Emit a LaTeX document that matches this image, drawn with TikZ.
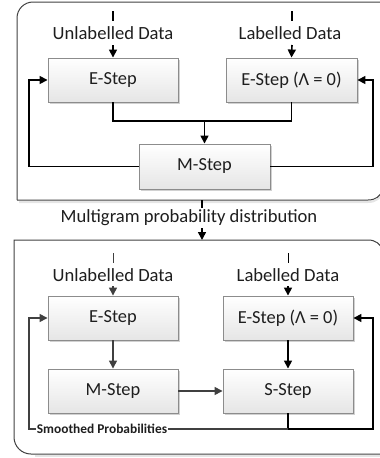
\documentclass[tikz,border=0pt]{standalone}
\usepackage{fontspec}
\setmainfont{Carlito}
\usetikzlibrary{arrows.meta,shadows}
\definecolor{txt}{HTML}{1E1E1E}
\definecolor{boxline}{HTML}{8C8C8C}
\definecolor{panelline}{HTML}{404040}
\definecolor{darkline}{HTML}{404040}
\tikzset{
  stepbox/.style={draw=boxline, line width=0.9pt, top color=white, bottom color=black!10,
    minimum width=130pt, minimum height=44pt, inner sep=0pt, text=txt,
    font=\fontsize{18.4}{20}\selectfont,
    drop shadow={shadow xshift=1.5pt, shadow yshift=-1.5pt, opacity=0.18, fill=black}},
  lbl/.style={text=txt, font=\fontsize{18.6}{20}\selectfont, inner sep=1pt},
  conn/.style={draw=black, line width=1.6pt},
  gconn/.style={draw=darkline, line width=1.4pt},
  tip/.style={-{Triangle[width=8pt,length=8pt]}},
  panel/.style={draw=panelline, line width=1pt},
  pshadow/.style={draw=black!10, line width=2pt},
}
\begin{document}
\begin{tikzpicture}[x=1pt,y=-1pt]
\useasboundingbox (0,0) rectangle (380,458);
% panel shadows
\draw[pshadow] (19,202) -- (368,202) .. controls (376,202) and (380,198) .. (384,192);
\draw[pshadow] (35,456) -- (384,456);
% panels
\draw[panel] (17,200) -- (17,18) .. controls (17,9.2) and (24.2,2) .. (33,2) -- (383,2);
\draw[panel] (17,200) -- (368,200) .. controls (376,200) and (380,196) .. (383,190);
\draw[panel] (383,250) .. controls (380,244) and (376,240) .. (368,240) -- (14,240) -- (14,437) .. controls (14,446.4) and (21.6,454) .. (31,454) -- (383,454);
% ---------- panel 1 ----------
\node[stepbox] (e1) at (113,80) {E-Step};
\node[stepbox, minimum width=131pt] (e2) at (291.5,80) {E-Step (Λ = 0)};
\node[stepbox, minimum width=131pt, minimum height=45pt] (m1) at (204.5,166.5) {M-Step};
\node[lbl] (u1) at (113,33) {Unlabelled Data};
\node[lbl] (l1) at (290,33) {Labelled Data};
\coordinate (u1t) at (113,11); \coordinate (u1b) at (113,21);
\coordinate (l1t) at (292,11); \coordinate (l1b) at (292,21);
\draw[conn, line width=1.3pt] (u1t) -- (u1b);
\draw[conn, line width=1.3pt] (l1t) -- (l1b);
\draw[conn,tip] (113,45) -- (e1.north);
\draw[conn,tip] (292,45) -- (e2.north);
\coordinate (j1) at (204.5,121);
\draw[conn] (e1.south) |- (j1);
\draw[conn] (e2.south) |- (j1);
\draw[conn,tip] (j1) -- (m1.north);
\coordinate (fl1) at (29,80);
\coordinate (fr1) at (373,80);
\draw[conn,tip] (m1.west) -| (fl1) -- (e1.west);
\draw[conn,tip] (m1.east) -| (fr1) -- (e2.east);
% ---------- between ----------
\node[lbl] (mg) at (189,218) {Multigram probability distribution};
\coordinate (mgt) at (202,200); \coordinate (mgb) at (202,208);
\draw[conn, line width=1.3pt] (mgt) -- (mgb);
\coordinate (mga) at (202,228);
\draw[conn,tip] (mga) -- (202,240);
% ---------- panel 2 ----------
\node[stepbox] (e3) at (113,318) {E-Step};
\node[stepbox] (e4) at (288,318) {E-Step (Λ = 0)};
\node[stepbox] (m2) at (113,391) {M-Step};
\node[stepbox] (s2) at (288,391) {S-Step};
\node[lbl] (u2) at (113,275) {Unlabelled Data};
\node[lbl] (l2) at (288,275) {Labelled Data};
\coordinate (u2t) at (113,253); \coordinate (u2b) at (113,263);
\coordinate (l2t) at (288,253); \coordinate (l2b) at (288,263);
\draw[gconn, line width=1pt] (u2t) -- (u2b);
\draw[conn, line width=1pt] (l2t) -- (l2b);
\draw[gconn,tip] (113,286) -- (e3.north);
\draw[conn,tip] (288,286) -- (e4.north);
\draw[gconn,tip] (e3.south) -- (m2.north);
\draw[conn,tip] (e4.south) -- (s2.north);
\draw[gconn,tip] (m2.east) -- (s2.west);
\node[text=txt, font=\bfseries\fontsize{13.4}{15}\selectfont, inner xsep=0.5pt, inner ysep=1pt] (sm) at (102,429) {Smoothed Probabilities};
\coordinate (sb) at (288,429);
\coordinate (fl2) at (29,318);
\coordinate (fr2) at (373,318);
\draw[conn] (s2.south) -- (sb);
\draw[conn,tip] (sb) -| (fr2) -- (e4.east);
\draw[gconn] (sb) -- (sm.east);
\draw[gconn,tip] (sm.west) -| (fl2) -- (e3.west);
\end{tikzpicture}
\end{document}
